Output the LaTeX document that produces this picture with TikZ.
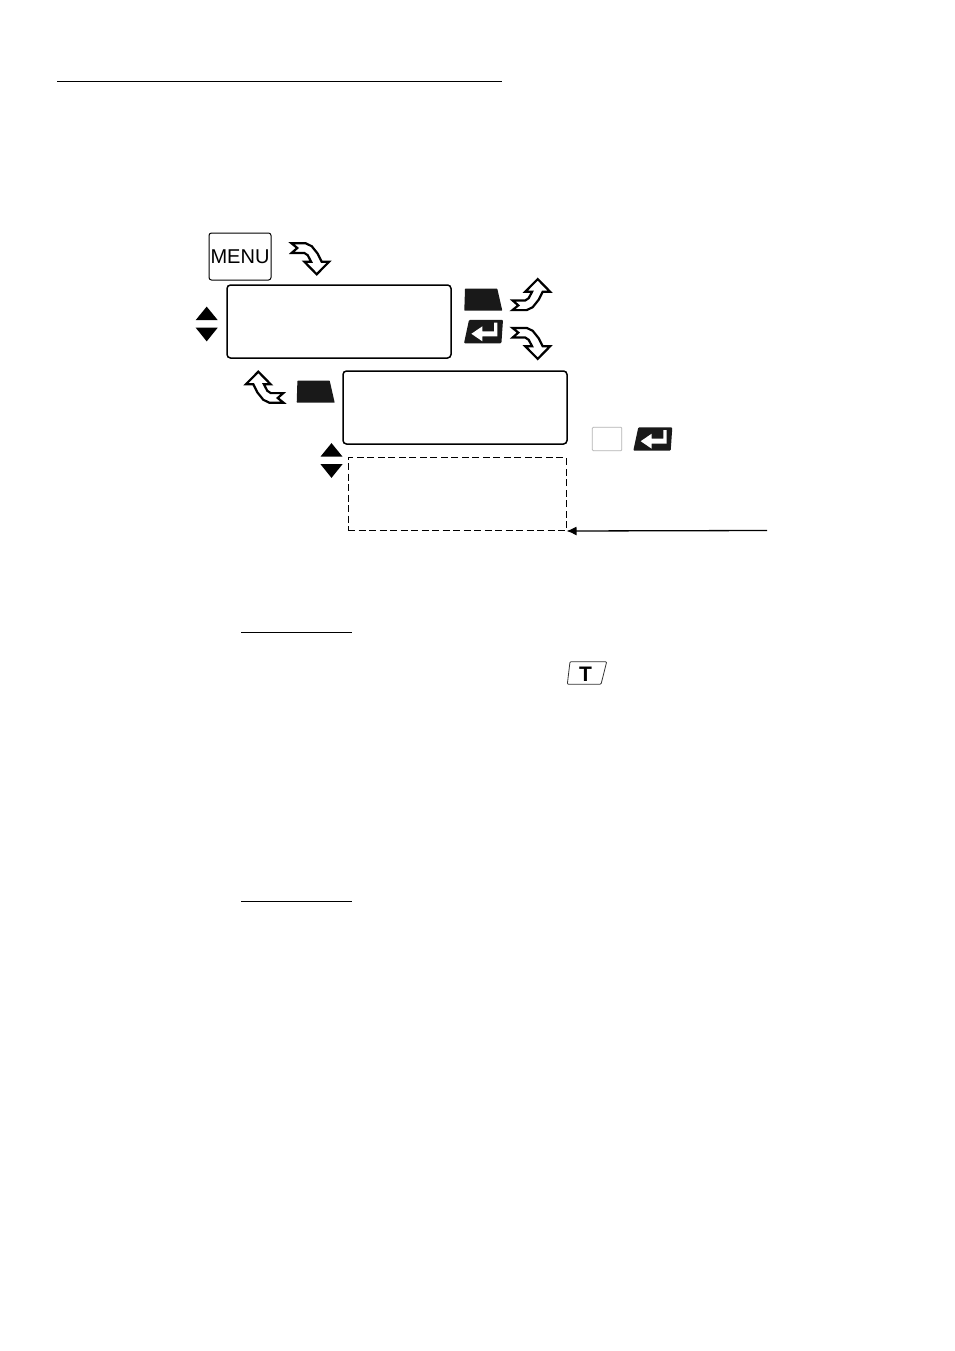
\documentclass[tikz,border=0pt]{standalone}
\usepackage{fontspec}
\setmainfont{Liberation Sans}
\usetikzlibrary{arrows.meta}

\begin{document}
\begin{tikzpicture}[
        x=1pt, y=-1pt,
        lcdbox/.style = {
        draw, line width=1.5pt, rounded corners=3.5pt, minimum width=224pt, minimum height=73pt, inner sep=0pt
        },
        spare/.style = {
        draw, line width=1pt, dash pattern=on 7pt off 3.5pt, minimum width=218pt, minimum height=73pt, inner sep=0pt
        },
        keycap/.style = {
        draw, line width=0.8pt, rounded corners=1pt, inner sep=0pt
        },
        rulerline/.style = {line width=0.8pt},
        pics/bentarrow/.style = {
        code = {
            \draw[line width=2.2pt, fill=white, miter limit=6]
            (0.8,0.6) -- (15,0.6) -- (21,3.5) -- (27,11) -- (31,19)
            -- (38.4,19) -- (26,31.6) -- (13.6,19) -- (20.4,19)
            -- (17,12.5) -- (13.5,10.2)
            -- (1,10.2) -- (6.6,5.3) -- cycle;
        }
        },
        pics/updown/.style = {
        code = {
            \fill (0,-17.4) -- (11,-3.9) -- (-11,-3.9) -- cycle;
            \fill (0,17.4) -- (11,3.7) -- (-11,3.7) -- cycle;
        }
        },
        pics/blackkey/.style = {
        code = {
            \fill[black!90, rounded corners=0.5pt] (0.7,-22) -- (33,-22) -- (38,0) -- (0,0) -- cycle;
        }
        },
        pics/enterkey/.style = {
        code = {
            \fill[black!90, rounded corners=1pt] (5,-23.4) -- (39,-23.4) -- (37.4,0) -- (0,0) -- cycle;
            \fill[white] (7.4,-9.5) -- (18.4,-17) -- (18.4,-12) -- (30,-12) -- (30,-20.7)
            -- (33.4,-20.7) -- (33.4,-7) -- (18.4,-7) -- (18.4,-2) -- cycle;
        }
        }
        ]
        \useasboundingbox (0,0) rectangle (954,1351);

        % heading and section rules
        \coordinate (headL) at (57,81);
        \coordinate (headR) at (502,81);
        \coordinate (noteL) at (241,632);
        \coordinate (noteR) at (351.5,632);
        \coordinate (exampleL) at (241,901);
        \coordinate (exampleR) at (351.5,901);
        \draw[rulerline] (headL) -- (headR);
        \draw[rulerline] (noteL) -- (noteR);
        \draw[rulerline] (exampleL) -- (exampleR);

        % menu screens
        \node[draw, line width=1pt, rounded corners=2.5pt, minimum width=62pt, minimum height=47pt, inner sep=0pt, font=\fontsize{20}{20}\selectfont] (menu) at (240,256.5) {MENU};
        \node[lcdbox] (first) at (339,321.5) {};
        \node[lcdbox] (second) at (455,407.5) {};
        \node[spare] (third) at (457,494) {};

        % key symbols
        \pic at (206.7,324) {updown};
        \pic at (331.5,460.5) {updown};
        \pic at (290.7,242.7) {bentarrow};
        \pic[yscale=-1] at (511.7,310.7) {bentarrow};
        \pic at (511.7,327.3) {bentarrow};
        \pic[xscale=-1, yscale=-1] at (284.3,403.3) {bentarrow};
        \pic at (464.3,310.7) {blackkey};
        \pic at (296.7,402.7) {blackkey};
        \pic at (464,343.3) {enterkey};
        \pic at (633.3,450.7) {enterkey};
        \node[draw=black!30, line width=0.7pt, rounded corners=1pt, minimum width=29.5pt, minimum height=23.5pt, inner sep=0pt] (blank) at (607,439) {};
        \node[font=\bfseries\fontsize{21}{21}\selectfont, inner sep=0pt] (tare) at (585.5,674) {T};
        \draw[keycap, black!80] (570,661.7) -- (606.7,661.7) -- (601,684.3) -- (567.3,684.3) -- cycle;

        % pointer to the dashed screen
        \coordinate (pointer) at (767,530.5);
        \draw[line width=1.3pt, -{Latex[length=10pt,width=9pt]}] (pointer) -- (third.south east);
    \end{tikzpicture}
\end{document}
